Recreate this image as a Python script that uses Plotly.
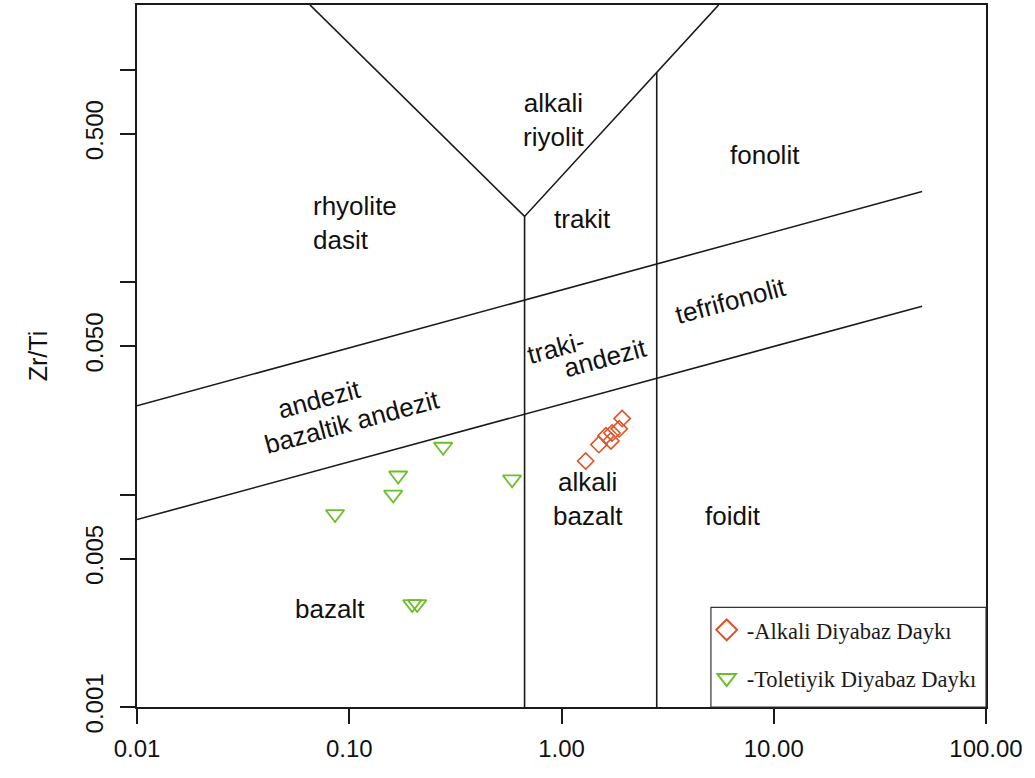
import plotly.graph_objects as go

# Sample data: Nb/Y (x) and Zr/Ti (y)
alkali_nb_y = [1.30, 1.50, 1.62, 1.71, 1.73, 1.87, 1.93]
alkali_zr_ti = [0.0144, 0.0172, 0.0189, 0.0179, 0.0195, 0.0204, 0.0228]

toleiitic_nb_y = [0.0857, 0.161, 0.170, 0.277, 0.585, 0.198, 0.209]
toleiitic_zr_ti = [0.0081, 0.0100, 0.0123, 0.0168, 0.0118, 0.00305, 0.00305]

# Field boundaries (Nb/Y, Zr/Ti), segments separated by None
boundary_x = [0.0653, 0.67, 5.5, None,
              0.67, 0.67, None,
              2.81, 2.81, None,
              0.01, 50.0, None,
              0.01, 50.0]
boundary_y = [2.02, 0.204, 2.02, None,
              0.001, 0.204, None,
              0.001, 0.97, None,
              0.0262, 0.267, None,
              0.00763, 0.0771]

x_tickvals = [0.01, 0.1, 1, 10, 100]
x_ticktext = ["0.01", "0.10", "1.00", "10.00", "100.00"]
y_tickvals = [0.001, 0.005, 0.01, 0.05, 0.1, 0.5, 1.0]
y_ticktext = ["0.001", "0.005", "", "0.050", "", "0.500", ""]

# Field names: text, log10(Nb/Y), log10(Zr/Ti), angle, anchor
field_labels = [
    ("alkali<br>riyolit", -0.040, -0.235, 0, "center"),
    ("fonolit", 0.959, -0.399, 0, "center"),
    ("rhyolite<br>dasit", -1.180, -0.723, 0, "left"),
    ("trakit", 0.097, -0.704, 0, "center"),
    ("tefrifonolit", 0.794, -1.089, -15, "center"),
    ("traki-", -0.026, -1.310, -15, "center"),
    ("andezit", 0.205, -1.357, -15, "center"),
    ("andezit", -1.138, -1.549, -15, "center"),
    ("bazaltik andezit", -0.987, -1.657, -15, "center"),
    ("alkali<br>bazalt", 0.125, -2.019, 0, "center"),
    ("foidit", 0.808, -2.103, 0, "center"),
    ("bazalt", -1.091, -2.540, 0, "center"),
]

alkali_color = "#DE5428"
tol_color = "#6CBF2C"
sans = "Liberation Sans, Arial, sans-serif"
serif = "Liberation Serif, Times New Roman, serif"

fig = go.Figure()

fig.add_trace(go.Scatter(
    x=boundary_x, y=boundary_y, mode="lines",
    line=dict(color="#1a1a1a", width=1.6),
    hoverinfo="skip", showlegend=False,
))

fig.add_trace(go.Scatter(
    x=toleiitic_nb_y, y=toleiitic_zr_ti, mode="markers",
    marker=dict(symbol="triangle-down-open", size=16,
                color=tol_color, line=dict(width=1.8, color=tol_color)),
    showlegend=False, legendgroup="t",
))
fig.add_trace(go.Scatter(
    x=alkali_nb_y, y=alkali_zr_ti, mode="markers",
    marker=dict(symbol="diamond-open", size=12.5,
                color=alkali_color, line=dict(width=1.6, color=alkali_color)),
    showlegend=False, legendgroup="a",
))

# Legend entries
fig.add_trace(go.Scatter(
    x=[None], y=[None], mode="markers", name="-Alkali Diyabaz Daykı",
    marker=dict(symbol="diamond-open", size=16, color=alkali_color,
                line=dict(width=2, color=alkali_color)),
    legendgroup="a",
))
fig.add_trace(go.Scatter(
    x=[None], y=[None], mode="markers", name="-Toletiyik Diyabaz Daykı",
    marker=dict(symbol="triangle-down-open", size=16, color=tol_color,
                line=dict(width=2, color=tol_color)),
    legendgroup="t",
))

annotations = []
for text, xl, yl, ang, anchor in field_labels:
    annotations.append(dict(
        x=xl, y=yl, xref="x", yref="y", text=text, showarrow=False,
        textangle=ang, xanchor=anchor, yanchor="middle", align=anchor,
        font=dict(family=sans, size=26, color="#111111"),
    ))

fig.update_layout(
    width=1035, height=778,
    margin=dict(l=137, r=49, t=3, b=71),
    paper_bgcolor="white", plot_bgcolor="white",
    annotations=annotations,
    shapes=[dict(type="rect", xref="paper", yref="paper",
                 x0=0.676, x1=1.0, y0=0.0, y1=0.142,
                 line=dict(color="#333333", width=1.2))],
    legend=dict(
        x=0.671, y=0.140, xanchor="left", yanchor="top",
        bgcolor="rgba(0,0,0,0)", borderwidth=0,
        font=dict(family=serif, size=22.5, color="#1a1a1a"),
        tracegroupgap=16, itemclick=False, itemdoubleclick=False,
    ),
    showlegend=True,
)

fig.update_xaxes(
    type="log", range=[-2, 2],
    tickvals=x_tickvals, ticktext=x_ticktext,
    ticks="outside", ticklen=15, tickwidth=1.5, tickcolor="#1a1a1a",
    showline=True, linecolor="#1a1a1a", linewidth=1.6, mirror=True,
    showgrid=False, zeroline=False, ticklabelstandoff=4,
    tickfont=dict(family=sans, size=24, color="#111111"),
)
fig.update_yaxes(
    type="log", range=[-3, 0.305],
    tickvals=y_tickvals, ticktext=y_ticktext, tickangle=-90,
    ticks="outside", ticklen=15, tickwidth=1.5, tickcolor="#1a1a1a",
    showline=True, linecolor="#1a1a1a", linewidth=1.6, mirror=True,
    showgrid=False, zeroline=False, ticklabelstandoff=8,
    tickfont=dict(family=sans, size=24, color="#111111"),
    title=dict(text="Zr/Ti", font=dict(family=sans, size=25, color="#111111"),
               standoff=26),
)

fig.write_html("out.html")
